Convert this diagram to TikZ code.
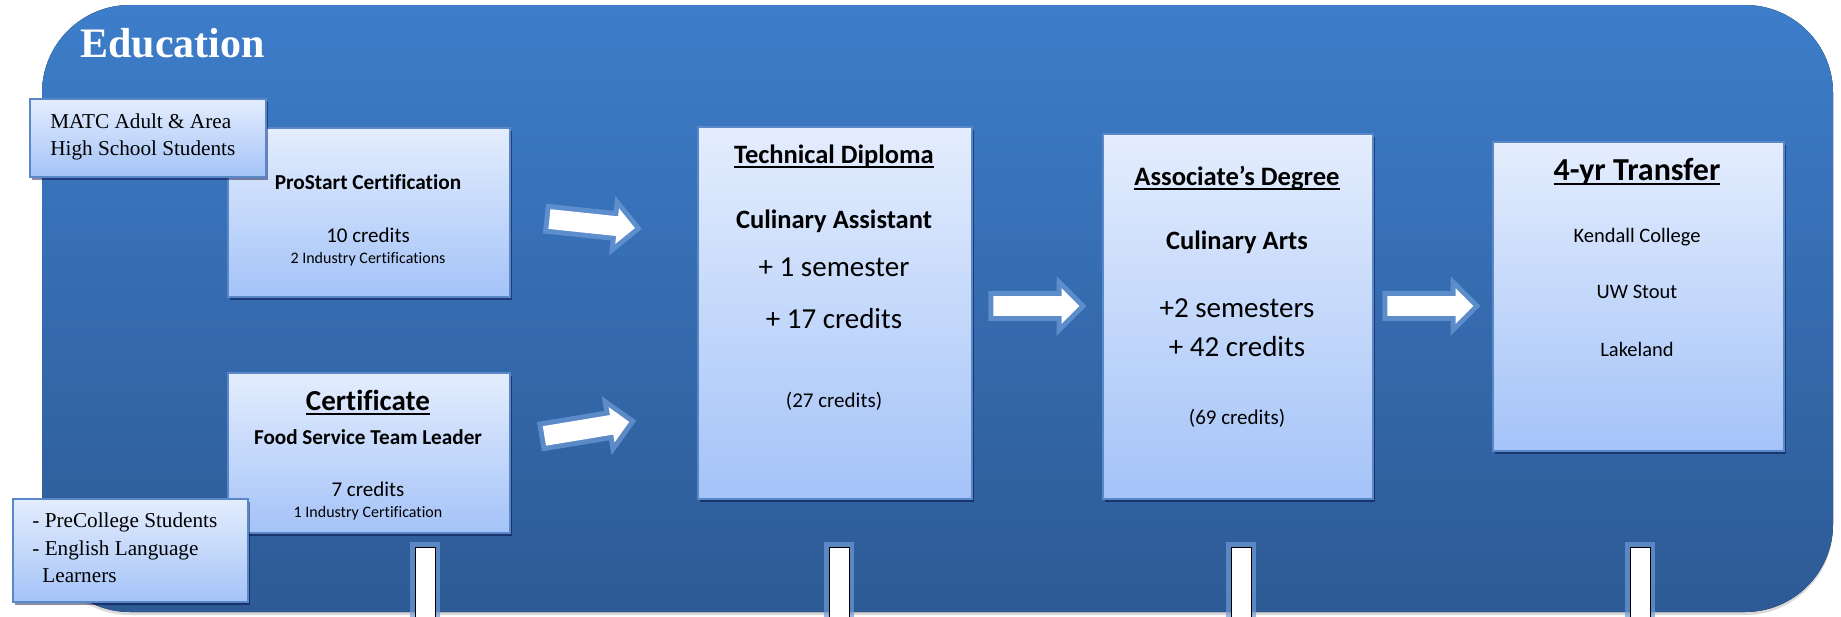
\documentclass[tikz,border=0pt]{standalone}
\usepackage{fontspec}
\setmainfont{Carlito}[Ligatures=NoCommon]
\newfontfamily\tnr{Liberation Serif}
\usetikzlibrary{shapes.arrows,shadows}

\definecolor{bgtop}{RGB}{61,125,202}
\definecolor{bgbot}{RGB}{45,90,148}
\definecolor{boxtop}{RGB}{228,237,253}
\definecolor{boxbot}{RGB}{164,195,248}
\definecolor{boxline}{RGB}{90,135,200}
\definecolor{rim}{RGB}{110,155,215}

\newcommand\fs[1]{\fontsize{#1}{#1}\selectfont}
\newcommand\hdline[1]{\setbox0\hbox{#1}\rlap{\vrule width\wd0 height -1.4pt depth 2.4pt}\box0}

\tikzset{
    box/.style={draw=boxline, line width=0.75pt, top color=boxtop, bottom color=boxbot,
        drop shadow={shadow xshift=1pt, shadow yshift=-1.5pt, opacity=0.45, fill=black!80!blue},
        anchor=north west, inner sep=0pt},
    txt/.style={anchor=base, inner sep=0pt},
    note/.style={anchor=base west, inner sep=0pt, font=\tnr\fs{10.6}},
    fat/.style={shape=single arrow, fill=white, minimum height=43pt, text height=9.5pt, text depth=0pt,
        single arrow head extend=4pt, anchor=tail, inner sep=0pt,
        preaction={draw=rim, draw opacity=0.7, line width=5pt}},
    bar/.style={fill=white, preaction={draw=rim, draw opacity=0.7, line width=5pt}}
}

\begin{document}
\begin{tikzpicture}[x=0.5pt, y=-0.5pt]
        \useasboundingbox (0,0) rectangle (1841,616);
        % background panel
        \fill[top color=bgtop, bottom color=bgbot, rounded corners=44pt,
            drop shadow={shadow xshift=0pt, shadow yshift=-1.5pt, opacity=0.3}] (42,5) rectangle (1833,612);
        \node[anchor=base west, inner sep=0pt, text=white, font=\tnr\bfseries\fs{21}] (title) at (80,57) {Education};

        % program boxes
        \node[box, minimum width=141pt, minimum height=84.5pt] (pro) at (227,127) {};
        \node[box, minimum width=141pt, minimum height=80pt] (cert) at (227,372) {};
        \node[box, minimum width=137pt, minimum height=186pt] (tech) at (697,126) {};
        \node[box, minimum width=135pt, minimum height=182.5pt] (assoc) at (1102,133) {};
        \node[box, minimum width=145.5pt, minimum height=154.5pt] (four) at (1492,141) {};

        % block arrows
        \node[fat, rotate=-6] (ar1) at (549,219) {};
        \node[fat, rotate=9.4] (ar2) at (544,436) {};
        \node[fat] (ar3) at (993,306) {};
        \node[fat] (ar4) at (1387,306) {};
        \foreach \x in {425,839,1241,1640}
            \draw[bar] (\x-10,547) rectangle (\x+10,640);

        % student groups
        \node[box, minimum width=118pt, minimum height=39pt] (matc) at (29,98) {};
        \node[box, minimum width=117.5pt, minimum height=51.5pt] (pre) at (12,498) {};
        \node[note] (matc1) at (50,128) {MATC Adult \& Area};
        \node[note] (matc2) at (50,155) {High School Students};
        \node[note] (pre1) at (32,527) {- PreCollege Students};
        \node[note] (pre2) at (32,555) {- English Language};
        \node[note] (pre3) at (42,582) {Learners};

        % texts
        \node[txt, font=\bfseries\fs{10.65}] (pro1) at (368,189) {ProStart Certification};
        \node[txt, font=\fs{10.5}] (pro2) at (368,242) {10 credits};
        \node[txt, font=\fs{8}] (pro3) at (368,263) {2 Industry Certifications};

        \node[txt, font=\bfseries\fs{14.5}] (cert1) at (368,410) {\hdline{Certificate}};
        \node[txt, font=\bfseries\fs{10.6}] (cert2) at (368,444) {Food Service Team Leader};
        \node[txt, font=\fs{10.5}] (cert3) at (368,496) {7 credits};
        \node[txt, font=\fs{8}] (cert4) at (368,517) {1 Industry Certification};

        \node[txt, font=\bfseries\fs{13.25}] (tech1) at (834,163) {\hdline{Technical Diploma}};
        \node[txt, font=\bfseries\fs{13.25}] (tech2) at (834,228) {Culinary Assistant};
        \node[txt, font=\fs{14.5}] (tech3) at (834,276) {+ 1 semester};
        \node[txt, font=\fs{14.5}] (tech4) at (834,328) {+ 17 credits};
        \node[txt, font=\fs{10.5}] (tech5) at (834,407) {(27 credits)};

        \node[txt, font=\bfseries\fs{13.3}] (assoc1) at (1237,185) {\hdline{Associate’s Degree}};
        \node[txt, font=\bfseries\fs{13.25}] (assoc2) at (1237,249) {Culinary Arts};
        \node[txt, font=\fs{14.5}] (assoc3) at (1237,317) {+2 semesters};
        \node[txt, font=\fs{14.5}] (assoc4) at (1237,356) {+ 42 credits};
        \node[txt, font=\fs{10.5}] (assoc5) at (1237,424) {(69 credits)};

        \node[txt, font=\bfseries\fs{16}] (four1) at (1637,180) {\hdline{4-yr Transfer}};
        \node[txt, font=\fs{10.25}] (four2) at (1637,242) {Kendall College};
        \node[txt, font=\fs{10.25}] (four3) at (1637,298) {UW Stout};
        \node[txt, font=\fs{10.25}] (four4) at (1637,356) {Lakeland};
\end{tikzpicture}
\end{document}
